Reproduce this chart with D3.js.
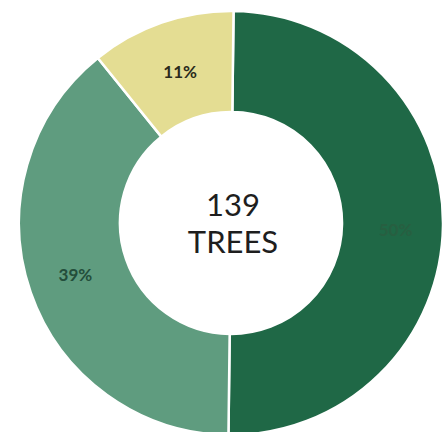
<!DOCTYPE html>
<html>
<head>
<meta charset="utf-8">
<script src="https://cdn.jsdelivr.net/npm/d3@7"></script>
<style>
  body { margin: 0; background: #fff; }
  svg { display: block; }
</style>
</head>
<body>
<div id="chart"></div>
<script>
// slice data, clockwise from the top
var categories = ["Dark", "Medium", "Light"];
var values = [50, 39, 11];
var labels = ["50%", "39%", "11%"];
var totalLabel = ["139", "TREES"];

var colors = ["#1f6846", "#5f9c7f", "#e4dd93"];
var labelColors = ["#2d5a3e", "#234e3b", "#2a2a1c"];

var width = 448, height = 432;
var cx = 231, cy = 223;
var outerR = 212, innerR = 111;

var svg = d3.select("#chart").append("svg")
  .attr("width", width)
  .attr("height", height);

var g = svg.append("g")
  .attr("transform", "translate(" + cx + "," + cy + ")");

var pie = d3.pie()
  .sort(null)
  .startAngle(0.012)
  .endAngle(2 * Math.PI + 0.012)
  .value(function(d) { return d; });

var arc = d3.arc().innerRadius(innerR).outerRadius(outerR);

var arcs = pie(values);

g.selectAll("path.slice")
  .data(arcs)
  .enter().append("path")
  .attr("class", "slice")
  .attr("d", arc)
  .attr("fill", function(d, i) { return colors[i]; })
  .attr("stroke", "#fff")
  .attr("stroke-width", 2.5);

// label positions along the ring
var labelArc = d3.arc().innerRadius(innerR).outerRadius(outerR);
var labelOffsets = [[3, 5], [-3, -1], [2, 1]];

g.selectAll("text.pct")
  .data(arcs)
  .enter().append("text")
  .attr("class", "pct")
  .attr("transform", function(d, i) {
    var c = labelArc.centroid(d);
    return "translate(" + (c[0] + labelOffsets[i][0]) + "," + (c[1] + labelOffsets[i][1]) + ")";
  })
  .attr("text-anchor", "middle")
  .attr("dominant-baseline", "central")
  .style("font-family", "Lato, 'Open Sans', sans-serif")
  .style("font-weight", "bold")
  .style("font-size", "17px")
  .style("fill", function(d, i) { return labelColors[i]; })
  .style("opacity", function(d, i) { return i == 0 ? 0.6 : 1; })
  .text(function(d, i) { return labels[i]; });

// centre text
g.selectAll("text.total")
  .data(totalLabel)
  .enter().append("text")
  .attr("class", "total")
  .attr("x", 2)
  .attr("y", function(d, i) { return i == 0 ? -19 : 18; })
  .attr("text-anchor", "middle")
  .attr("dominant-baseline", "central")
  .style("font-family", "Lato, 'Open Sans', sans-serif")
  .style("font-size", "31px")
  .style("fill", "#1e1e1e")
  .text(function(d) { return d; });
</script>
</body>
</html>
